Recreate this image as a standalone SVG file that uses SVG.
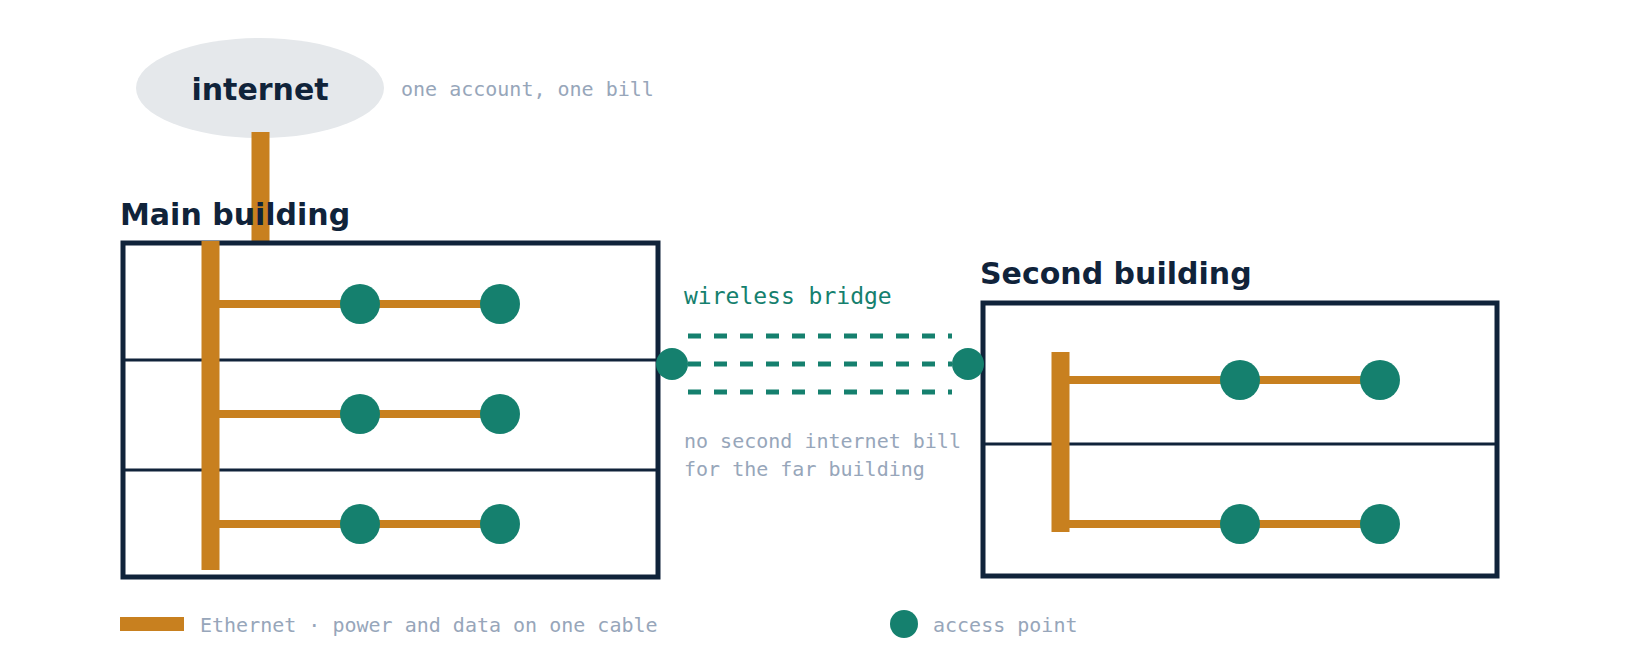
<svg xmlns="http://www.w3.org/2000/svg" width="1640" height="660" viewBox="0 0 1640 660">
<style>
.title{font-family:"DejaVu Sans","Liberation Sans",sans-serif;font-weight:bold;font-size:30px;fill:#10233a}
.note{font-family:"DejaVu Sans Mono","Liberation Mono",monospace;font-size:20px;fill:#97a6ba}
.bridge{font-family:"DejaVu Sans Mono","Liberation Mono",monospace;font-size:23px;fill:#15806e}
.box{fill:#fff;stroke:#10233a;stroke-width:5}
.floor{stroke:#10233a;stroke-width:3}
.riser{fill:#c8801f}
.cable{stroke:#c8801f;stroke-width:8}
.ap{fill:#15806e}
.wave{stroke:#15806e;stroke-width:5;stroke-dasharray:13 13;fill:none}
</style>
<rect width="1640" height="660" fill="#fff"/>
<g id="internet">
<ellipse cx="260" cy="88" rx="124" ry="50" fill="#e5e8eb"/>
<text class="title" x="260" y="100" text-anchor="middle">internet</text>
<text class="note" x="401" y="96">one account, one bill</text>
</g>
<g id="connectors">
<rect class="riser" x="251.5" y="132" width="18" height="110"/>
<line class="wave" x1="688" y1="336" x2="952" y2="336"/>
<line class="wave" x1="688" y1="364" x2="952" y2="364"/>
<line class="wave" x1="688" y1="392" x2="952" y2="392"/>
</g>
<g id="main-building">
<text class="title" x="120" y="225">Main building</text>
<rect class="box" x="123" y="243" width="535" height="334"/>
<line class="floor" x1="123" y1="360" x2="658" y2="360"/>
<line class="floor" x1="123" y1="470" x2="658" y2="470"/>
<line class="cable" x1="210" y1="304" x2="500" y2="304"/>
<line class="cable" x1="210" y1="414" x2="500" y2="414"/>
<line class="cable" x1="210" y1="524" x2="500" y2="524"/>
<rect class="riser" x="201.5" y="241" width="18" height="329"/>
<circle class="ap" cx="360" cy="304" r="20"/>
<circle class="ap" cx="500" cy="304" r="20"/>
<circle class="ap" cx="360" cy="414" r="20"/>
<circle class="ap" cx="500" cy="414" r="20"/>
<circle class="ap" cx="360" cy="524" r="20"/>
<circle class="ap" cx="500" cy="524" r="20"/>
</g>
<g id="second-building">
<text class="title" x="980" y="284">Second building</text>
<rect class="box" x="983" y="303" width="514" height="273"/>
<line class="floor" x1="983" y1="444" x2="1497" y2="444"/>
<line class="cable" x1="1060" y1="380" x2="1380" y2="380"/>
<line class="cable" x1="1060" y1="524" x2="1380" y2="524"/>
<rect class="riser" x="1051.5" y="352" width="18" height="180"/>
<circle class="ap" cx="1240" cy="380" r="20"/>
<circle class="ap" cx="1380" cy="380" r="20"/>
<circle class="ap" cx="1240" cy="524" r="20"/>
<circle class="ap" cx="1380" cy="524" r="20"/>
</g>
<g id="bridge">
<text class="bridge" x="684" y="304">wireless bridge</text>
<circle class="ap" cx="672" cy="364" r="16"/>
<circle class="ap" cx="968" cy="364" r="16"/>
<text class="note" x="684" y="448">no second internet bill</text>
<text class="note" x="684" y="476">for the far building</text>
</g>
<g id="legend">
<rect class="riser" x="120" y="617" width="64" height="14"/>
<text class="note" x="200" y="632">Ethernet · power and data on one cable</text>
<circle class="ap" cx="904" cy="624" r="14"/>
<text class="note" x="933" y="632">access point</text>
</g>
</svg>
